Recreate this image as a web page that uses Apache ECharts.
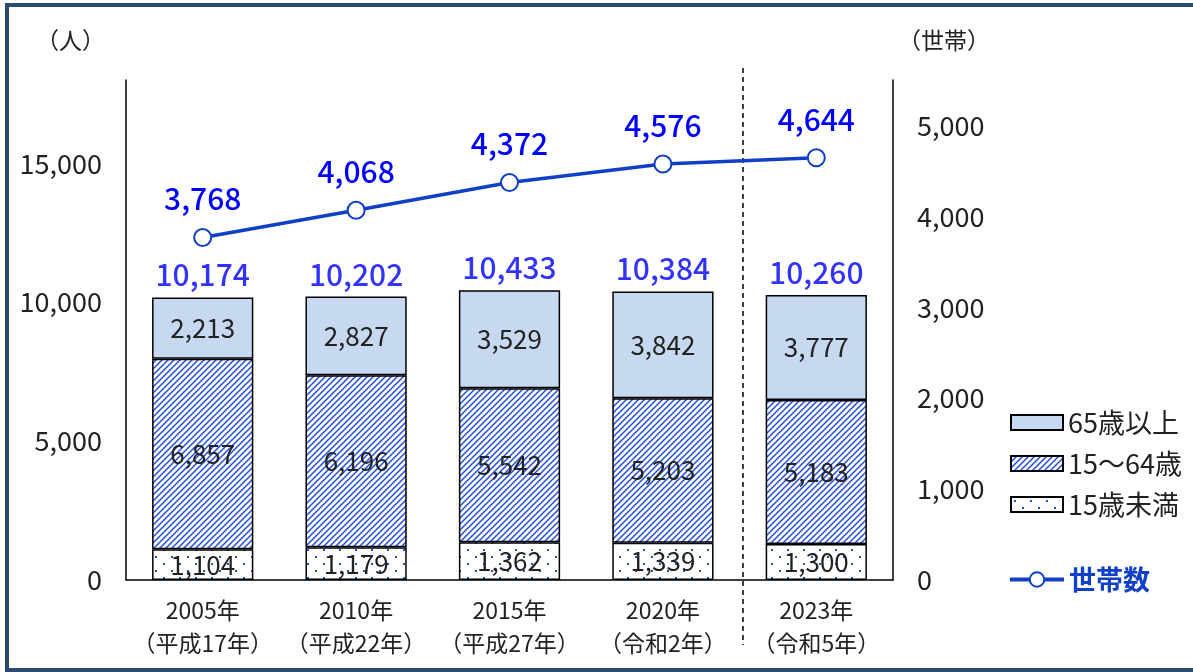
<!DOCTYPE html>
<html>
<head>
<meta charset="utf-8">
<script src="https://cdn.jsdelivr.net/npm/echarts@6/dist/echarts.min.js"></script>
<style>
  html, body { margin: 0; padding: 0; background: #fff; }
  #chart { width: 1193px; height: 672px; }
</style>
</head>
<body>
<div id="chart"></div>
<script>
// 年次（和暦）
const years = [
  '2005年\n（平成17年）',
  '2010年\n（平成22年）',
  '2015年\n（平成27年）',
  '2020年\n（令和2年）',
  '2023年\n（令和5年）'
];
const under15 = [1104, 1179, 1362, 1339, 1300];
const age15to64 = [6857, 6196, 5542, 5203, 5183];
const over65 = [2213, 2827, 3529, 3842, 3777];
const households = [3768, 4068, 4372, 4576, 4644];

const totals = years.map((_, i) => under15[i] + age15to64[i] + over65[i]);

const FONT = '"Noto Sans CJK JP", "Noto Sans", sans-serif';
const fmt = v => Number(v).toLocaleString('en-US');

// 斜線パターン
function hatch() {
  const c = document.createElement('canvas');
  c.width = 6; c.height = 6;
  const g = c.getContext('2d');
  g.fillStyle = '#fff';
  g.fillRect(0, 0, 6, 6);
  g.strokeStyle = '#1f4fd6';
  g.lineWidth = 1.5;
  g.beginPath();
  g.moveTo(-1, 7); g.lineTo(7, -1);
  g.moveTo(-1, 1); g.lineTo(1, -1);
  g.moveTo(5, 7); g.lineTo(7, 5);
  g.stroke();
  return c;
}
// 点パターン
function dots() {
  const c = document.createElement('canvas');
  c.width = 16; c.height = 14;
  const g = c.getContext('2d');
  g.fillStyle = '#fff';
  g.fillRect(0, 0, 16, 14);
  g.fillStyle = '#1f4fd6';
  g.fillRect(3, 3, 2, 2);
  g.fillRect(11, 10, 2, 2);
  return c;
}

const barBorder = { borderColor: '#000', borderWidth: 1.5 };
const innerLabel = {
  show: true,
  position: 'inside',
  fontFamily: FONT,
  fontSize: 26,
  color: '#222',
  formatter: p => fmt(p.value)
};

const chart = echarts.init(document.getElementById('chart'));

let option = {
  animation: false,
  textStyle: { fontFamily: FONT },
  grid: { left: 126, right: 300, top: 80, bottom: 92 },
  legend: [
    {
      data: ['65歳以上', '15～64歳', '15歳未満'],
      orient: 'vertical',
      left: 1005,
      top: 402,
      itemWidth: 52,
      itemHeight: 15,
      itemGap: 10,
      icon: 'rect',
      textStyle: { fontFamily: FONT, fontSize: 27, color: '#222', lineHeight: 31 }
    },
    {
      data: ['世帯数'],
      left: 1003,
      top: 561,
      itemWidth: 54,
      itemHeight: 18,
      lineStyle: { width: 4, color: '#1040c8' },
      textStyle: { fontFamily: FONT, fontSize: 27, color: '#1040c8', fontWeight: 'bold' }
    }
  ],
  xAxis: {
    type: 'category',
    data: years,
    axisLine: { lineStyle: { color: '#000', width: 1.5 } },
    axisTick: { inside: true, length: 6, lineStyle: { color: '#000', width: 1.5 } },
    axisLabel: { interval: 0, fontFamily: FONT, fontSize: 23, color: '#222', lineHeight: 33, margin: 14 }
  },
  yAxis: [
    {
      type: 'value',
      min: 0,
      max: 18000,
      interval: 5000,
      splitLine: { show: false },
      axisLine: { show: true, lineStyle: { color: '#000', width: 1.5 } },
      axisTick: { show: false },
      axisLabel: { fontFamily: FONT, fontSize: 27, color: '#222', margin: 24, showMaxLabel: false, formatter: fmt }
    },
    {
      type: 'value',
      min: 0,
      max: 5500,
      interval: 1000,
      splitLine: { show: false },
      axisLine: { show: true, lineStyle: { color: '#000', width: 1.5 } },
      axisTick: { show: false },
      axisLabel: { fontFamily: FONT, fontSize: 27, color: '#222', margin: 24, showMaxLabel: false, formatter: fmt }
    }
  ],
  series: [
    {
      name: '15歳未満',
      type: 'bar',
      stack: 'pop',
      barWidth: '66%',
      data: under15,
      itemStyle: Object.assign({ color: { image: dots(), repeat: 'repeat' } }, barBorder),
      label: innerLabel
    },
    {
      name: '15～64歳',
      type: 'bar',
      stack: 'pop',
      data: age15to64,
      itemStyle: Object.assign({ color: { image: hatch(), repeat: 'repeat' } }, barBorder),
      label: innerLabel
    },
    {
      name: '65歳以上',
      type: 'bar',
      stack: 'pop',
      data: over65,
      itemStyle: Object.assign({ color: '#c6d9f0' }, barBorder),
      label: innerLabel
    },
    {
      name: '合計',
      type: 'scatter',
      data: totals,
      symbolSize: 1,
      itemStyle: { color: 'rgba(0,0,0,0)' },
      silent: true,
      label: {
        show: true,
        position: 'top',
        distance: 7,
        fontFamily: FONT,
        fontSize: 30,
        fontWeight: 500,
        color: '#0000ff',
        formatter: p => fmt(p.value)
      }
    },
    {
      name: '世帯数',
      type: 'line',
      yAxisIndex: 1,
      data: households,
      symbol: 'circle',
      symbolSize: 17,
      lineStyle: { color: '#1040c8', width: 3.5 },
      itemStyle: { color: '#fff', borderColor: '#1040c8', borderWidth: 2 },
      label: {
        show: true,
        position: 'top',
        distance: 14,
        fontFamily: FONT,
        fontSize: 30,
        fontWeight: 500,
        color: '#0000ff',
        formatter: p => fmt(p.value)
      }
    }
  ]
};

chart.setOption(option);

// 2020年と2023年の間の区切り線
const xa = chart.convertToPixel({ xAxisIndex: 0 }, 3);
const xb = chart.convertToPixel({ xAxisIndex: 0 }, 4);
const xSep = Math.round((xa + xb) / 2) + 3;

chart.setOption({
  graphic: [
    {
      type: 'rect',
      shape: { x: 7, y: 5, width: 1200, height: 665 },
      style: { fill: 'none', stroke: '#2c4a70', lineWidth: 4 },
      silent: true
    },
    {
      type: 'line',
      shape: { x1: xSep, y1: 68, x2: xSep, y2: 645 },
      style: { stroke: '#000', lineWidth: 1.5, lineDash: [5, 4] },
      silent: true
    },
    {
      type: 'text',
      left: 36,
      top: 29,
      style: { text: '（人）', font: '23px ' + FONT, fill: '#222' }
    },
    {
      type: 'text',
      left: 898,
      top: 29,
      style: { text: '（世帯）', font: '23px ' + FONT, fill: '#222' }
    }
  ]
});
</script>
</body>
</html>
